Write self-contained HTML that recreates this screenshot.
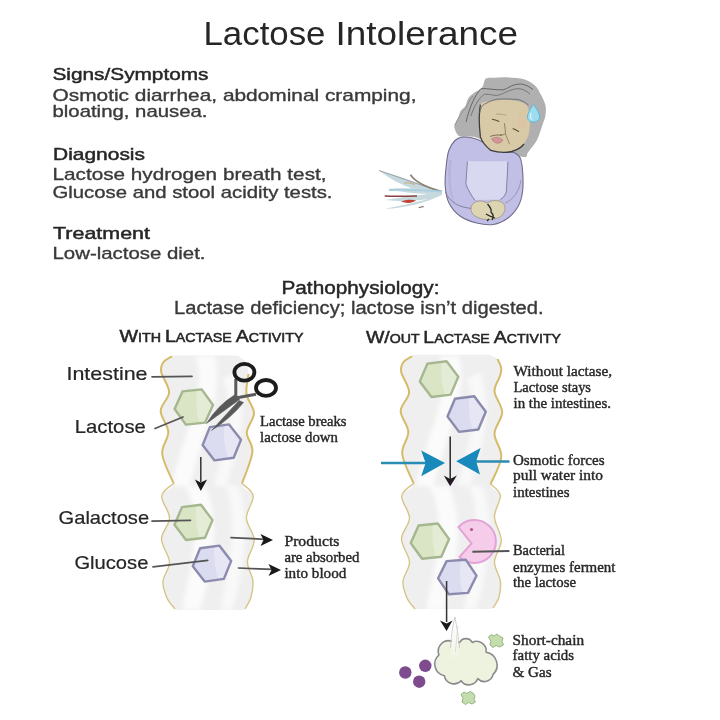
<!DOCTYPE html>
<html><head><meta charset="utf-8"><style>
html,body{margin:0;padding:0;background:#fff;width:720px;height:720px;overflow:hidden}
svg{display:block;filter:blur(0.4px)}
</style></head><body>
<svg width="720" height="720" viewBox="0 0 720 720">
<defs><filter id="blur2" x="-20%" y="-20%" width="140%" height="140%"><feGaussianBlur stdDeviation="2.2"/></filter></defs>
<rect width="720" height="720" fill="#ffffff"/>
<clipPath id="t1"><path d="M176.0,355.5 Q172.0,355.5 172.0,356.2 C170.6,357.2 165.3,359.4 163.5,362.0 C161.7,364.6 160.3,367.0 161.2,372.0 C162.1,377.0 169.2,385.7 169.1,392.2 C169.0,398.7 160.8,404.4 160.7,411.0 C160.6,417.6 168.1,424.8 168.3,432.0 C168.6,439.2 161.3,445.4 162.2,454.0 C163.1,462.6 173.8,476.5 173.7,483.5 C173.6,490.5 162.4,490.2 161.7,496.0 C161.0,501.8 169.5,510.8 169.5,518.0 C169.5,525.2 161.5,531.7 161.5,539.0 C161.5,546.3 169.2,555.0 169.5,562.0 C169.8,569.0 163.4,575.0 163.0,581.0 C162.6,587.0 165.0,593.3 167.0,598.0 C169.0,602.7 173.7,607.2 175.0,609.0 L178.0,610.0 L242.0,610.0 L245.0,609.0 C246.0,607.0 249.7,601.8 251.0,597.0 C252.3,592.2 253.4,585.9 252.8,580.0 C252.2,574.1 247.2,568.4 247.4,561.7 C247.6,555.0 254.4,547.3 254.2,540.0 C254.0,532.7 246.6,525.3 246.4,518.0 C246.2,510.7 253.9,501.8 253.2,496.0 C252.5,490.2 242.1,490.8 242.0,483.5 C241.9,476.2 251.6,460.5 252.4,452.0 C253.2,443.5 246.5,439.0 246.8,432.5 C247.1,426.0 254.1,419.4 254.0,413.0 C253.9,406.6 247.4,400.5 246.5,394.0 C245.6,387.5 248.7,379.3 248.5,374.0 C248.3,368.7 247.1,365.0 245.5,362.0 C243.9,359.0 240.1,357.2 239.0,356.2 Q239.0,355.5 235.0,355.5 Z"/></clipPath><path d="M176.0,355.5 Q172.0,355.5 172.0,356.2 C170.6,357.2 165.3,359.4 163.5,362.0 C161.7,364.6 160.3,367.0 161.2,372.0 C162.1,377.0 169.2,385.7 169.1,392.2 C169.0,398.7 160.8,404.4 160.7,411.0 C160.6,417.6 168.1,424.8 168.3,432.0 C168.6,439.2 161.3,445.4 162.2,454.0 C163.1,462.6 173.8,476.5 173.7,483.5 C173.6,490.5 162.4,490.2 161.7,496.0 C161.0,501.8 169.5,510.8 169.5,518.0 C169.5,525.2 161.5,531.7 161.5,539.0 C161.5,546.3 169.2,555.0 169.5,562.0 C169.8,569.0 163.4,575.0 163.0,581.0 C162.6,587.0 165.0,593.3 167.0,598.0 C169.0,602.7 173.7,607.2 175.0,609.0 L178.0,610.0 L242.0,610.0 L245.0,609.0 C246.0,607.0 249.7,601.8 251.0,597.0 C252.3,592.2 253.4,585.9 252.8,580.0 C252.2,574.1 247.2,568.4 247.4,561.7 C247.6,555.0 254.4,547.3 254.2,540.0 C254.0,532.7 246.6,525.3 246.4,518.0 C246.2,510.7 253.9,501.8 253.2,496.0 C252.5,490.2 242.1,490.8 242.0,483.5 C241.9,476.2 251.6,460.5 252.4,452.0 C253.2,443.5 246.5,439.0 246.8,432.5 C247.1,426.0 254.1,419.4 254.0,413.0 C253.9,406.6 247.4,400.5 246.5,394.0 C245.6,387.5 248.7,379.3 248.5,374.0 C248.3,368.7 247.1,365.0 245.5,362.0 C243.9,359.0 240.1,357.2 239.0,356.2 Q239.0,355.5 235.0,355.5 Z" fill="#efefef"/><g clip-path="url(#t1)"><g filter="url(#blur2)"><path d="M195.0,356.0 C210.0,390.0 180.0,440.0 172.0,486.0 L190.0,486.0 C200.0,440.0 225.0,395.0 215.0,356.0 Z" fill="#ffffff" opacity="0.75"/><path d="M222.0,380.0 C240.0,410.0 222.0,450.0 214.0,486.0 L226.0,486.0 C238.0,450.0 250.0,410.0 236.0,372.0 Z" fill="#ffffff" opacity="0.6"/><path d="M185.0,486.0 C205.0,520.0 190.0,570.0 182.0,610.0 L200.0,610.0 C212.0,570.0 222.0,525.0 205.0,486.0 Z" fill="#ffffff" opacity="0.75"/><path d="M225.0,486.0 C240.0,515.0 228.0,570.0 220.0,610.0 L232.0,610.0 C244.0,570.0 252.0,520.0 238.0,486.0 Z" fill="#ffffff" opacity="0.6"/></g></g><path d="M172.0,356.2 C170.6,357.2 165.3,359.4 163.5,362.0 C161.7,364.6 160.3,367.0 161.2,372.0 C162.1,377.0 169.2,385.7 169.1,392.2 C169.0,398.7 160.8,404.4 160.7,411.0 C160.6,417.6 168.1,424.8 168.3,432.0 C168.6,439.2 161.3,445.4 162.2,454.0 C163.1,462.6 171.8,478.6 173.7,483.5" fill="none" stroke="#d5bb68" stroke-width="2"/><path d="M173.7,483.5 C171.7,485.6 162.4,490.2 161.7,496.0 C161.0,501.8 169.5,510.8 169.5,518.0 C169.5,525.2 161.5,531.7 161.5,539.0 C161.5,546.3 169.2,555.0 169.5,562.0 C169.8,569.0 163.4,575.0 163.0,581.0 C162.6,587.0 165.0,593.3 167.0,598.0 C169.0,602.7 173.7,607.2 175.0,609.0" fill="none" stroke="#d8c488" stroke-width="1.4"/><path d="M248.5,374.0 C248.2,377.3 245.6,387.5 246.5,394.0 C247.4,400.5 253.9,406.6 254.0,413.0 C254.1,419.4 247.1,426.0 246.8,432.5 C246.5,439.0 253.2,443.5 252.4,452.0 C251.6,460.5 243.7,478.2 242.0,483.5" fill="none" stroke="#d5bb68" stroke-width="2"/><path d="M242.0,483.5 C243.9,485.6 252.5,490.2 253.2,496.0 C253.9,501.8 246.2,510.7 246.4,518.0 C246.6,525.3 254.0,532.7 254.2,540.0 C254.4,547.3 247.6,555.0 247.4,561.7 C247.2,568.4 252.2,574.1 252.8,580.0 C253.4,585.9 252.3,592.2 251.0,597.0 C249.7,601.8 246.0,607.0 245.0,609.0" fill="none" stroke="#d8c488" stroke-width="1.4"/>
<clipPath id="t2"><path d="M416.0,354.8 Q412.0,354.8 412.0,356.2 C410.6,357.2 405.3,359.4 403.5,362.0 C401.7,364.6 400.3,367.0 401.2,372.0 C402.1,377.0 409.2,385.7 409.1,392.2 C409.0,398.7 400.8,404.4 400.7,411.0 C400.6,417.6 408.1,424.8 408.3,432.0 C408.6,439.2 401.3,445.4 402.2,454.0 C403.1,462.6 413.8,476.5 413.7,483.5 C413.6,490.5 402.4,490.2 401.7,496.0 C401.0,501.8 409.5,510.8 409.5,518.0 C409.5,525.2 401.5,531.7 401.5,539.0 C401.5,546.3 409.2,555.0 409.5,562.0 C409.8,569.0 403.4,575.0 403.0,581.0 C402.6,587.0 405.0,593.3 407.0,598.0 C409.0,602.7 413.7,607.2 415.0,609.0 L418.0,609.0 L490.0,609.0 L493.0,608.0 C494.0,606.2 497.8,601.5 499.0,597.0 C500.2,592.5 501.1,586.9 500.3,581.0 C499.6,575.1 494.3,568.5 494.5,561.7 C494.7,554.9 501.3,547.8 501.3,540.3 C501.3,532.8 494.7,524.5 494.5,517.0 C494.3,509.6 500.9,501.1 500.3,495.6 C499.7,490.1 490.4,490.4 490.6,484.0 C490.8,477.6 500.7,465.4 501.3,457.0 C501.9,448.6 494.4,441.1 494.5,433.7 C494.6,426.2 502.2,419.3 502.2,412.3 C502.2,405.3 494.9,397.6 494.5,391.5 C494.1,385.4 498.9,379.9 500.0,376.0 C501.1,372.1 501.6,370.8 501.2,368.0 C500.8,365.2 499.7,361.2 497.5,359.0 C495.3,356.8 489.6,355.5 488.0,354.8 Q488.0,354.8 484.0,354.8 Z"/></clipPath><path d="M416.0,354.8 Q412.0,354.8 412.0,356.2 C410.6,357.2 405.3,359.4 403.5,362.0 C401.7,364.6 400.3,367.0 401.2,372.0 C402.1,377.0 409.2,385.7 409.1,392.2 C409.0,398.7 400.8,404.4 400.7,411.0 C400.6,417.6 408.1,424.8 408.3,432.0 C408.6,439.2 401.3,445.4 402.2,454.0 C403.1,462.6 413.8,476.5 413.7,483.5 C413.6,490.5 402.4,490.2 401.7,496.0 C401.0,501.8 409.5,510.8 409.5,518.0 C409.5,525.2 401.5,531.7 401.5,539.0 C401.5,546.3 409.2,555.0 409.5,562.0 C409.8,569.0 403.4,575.0 403.0,581.0 C402.6,587.0 405.0,593.3 407.0,598.0 C409.0,602.7 413.7,607.2 415.0,609.0 L418.0,609.0 L490.0,609.0 L493.0,608.0 C494.0,606.2 497.8,601.5 499.0,597.0 C500.2,592.5 501.1,586.9 500.3,581.0 C499.6,575.1 494.3,568.5 494.5,561.7 C494.7,554.9 501.3,547.8 501.3,540.3 C501.3,532.8 494.7,524.5 494.5,517.0 C494.3,509.6 500.9,501.1 500.3,495.6 C499.7,490.1 490.4,490.4 490.6,484.0 C490.8,477.6 500.7,465.4 501.3,457.0 C501.9,448.6 494.4,441.1 494.5,433.7 C494.6,426.2 502.2,419.3 502.2,412.3 C502.2,405.3 494.9,397.6 494.5,391.5 C494.1,385.4 498.9,379.9 500.0,376.0 C501.1,372.1 501.6,370.8 501.2,368.0 C500.8,365.2 499.7,361.2 497.5,359.0 C495.3,356.8 489.6,355.5 488.0,354.8 Q488.0,354.8 484.0,354.8 Z" fill="#efefef"/><g clip-path="url(#t2)"><g filter="url(#blur2)"><path d="M439.0,356.0 C454.0,390.0 424.0,440.0 416.0,486.0 L434.0,486.0 C444.0,440.0 469.0,395.0 459.0,356.0 Z" fill="#ffffff" opacity="0.75"/><path d="M466.0,380.0 C484.0,410.0 466.0,450.0 458.0,486.0 L470.0,486.0 C482.0,450.0 494.0,410.0 480.0,372.0 Z" fill="#ffffff" opacity="0.6"/><path d="M429.0,486.0 C449.0,520.0 434.0,570.0 426.0,610.0 L444.0,610.0 C456.0,570.0 466.0,525.0 449.0,486.0 Z" fill="#ffffff" opacity="0.75"/><path d="M469.0,486.0 C484.0,515.0 472.0,570.0 464.0,610.0 L476.0,610.0 C488.0,570.0 496.0,520.0 482.0,486.0 Z" fill="#ffffff" opacity="0.6"/></g></g><path d="M412.0,356.2 C410.6,357.2 405.3,359.4 403.5,362.0 C401.7,364.6 400.3,367.0 401.2,372.0 C402.1,377.0 409.2,385.7 409.1,392.2 C409.0,398.7 400.8,404.4 400.7,411.0 C400.6,417.6 408.1,424.8 408.3,432.0 C408.6,439.2 401.3,445.4 402.2,454.0 C403.1,462.6 411.8,478.6 413.7,483.5" fill="none" stroke="#d5bb68" stroke-width="2"/><path d="M413.7,483.5 C411.7,485.6 402.4,490.2 401.7,496.0 C401.0,501.8 409.5,510.8 409.5,518.0 C409.5,525.2 401.5,531.7 401.5,539.0 C401.5,546.3 409.2,555.0 409.5,562.0 C409.8,569.0 403.4,575.0 403.0,581.0 C402.6,587.0 405.0,593.3 407.0,598.0 C409.0,602.7 413.7,607.2 415.0,609.0" fill="none" stroke="#d8c488" stroke-width="1.4"/><path d="M497.5,359.0 C498.1,360.5 500.8,365.2 501.2,368.0 C501.6,370.8 501.1,372.1 500.0,376.0 C498.9,379.9 494.1,385.4 494.5,391.5 C494.9,397.6 502.2,405.3 502.2,412.3 C502.2,419.3 494.6,426.2 494.5,433.7 C494.4,441.1 501.9,448.6 501.3,457.0 C500.7,465.4 492.4,479.5 490.6,484.0" fill="none" stroke="#d5bb68" stroke-width="2"/><path d="M490.6,484.0 C492.2,485.9 499.7,490.1 500.3,495.6 C500.9,501.1 494.3,509.6 494.5,517.0 C494.7,524.5 501.3,532.8 501.3,540.3 C501.3,547.8 494.7,554.9 494.5,561.7 C494.3,568.5 499.6,575.1 500.3,581.0 C501.1,586.9 500.2,592.5 499.0,597.0 C497.8,601.5 494.0,606.2 493.0,608.0" fill="none" stroke="#d8c488" stroke-width="1.4"/>
<!-- pacman -->
<path d="M458.5,527 A21.5,21.5 0 1 1 459.5,557 L471.5,543.5 Z" fill="#f5cdea" stroke="#e3a3d6" stroke-width="2"/>
<circle cx="471.5" cy="529.5" r="1.6" fill="#c0508a"/>
<line x1="472.4" y1="551.8" x2="509.4" y2="551" stroke="#555" stroke-width="2"/>

<polygon points="213.0,405.0 205.1,422.6 185.9,424.6 174.6,409.0 182.5,391.4 201.7,389.4" fill="#dae5c5"/><path d="M201.7,389.4 L213.0,405.0 L205.1,422.6 L199.4,422.6 Q194.8,407.0 196.8,390.4 Z" fill="#e4ecd6"/><polygon points="213.0,405.0 205.1,422.6 185.9,424.6 174.6,409.0 182.5,391.4 201.7,389.4" fill="none" stroke="#a5b78f" stroke-width="2.4" stroke-linejoin="round"/>
<polygon points="241.0,439.7 233.7,457.7 214.5,460.4 202.6,445.1 209.9,427.1 229.1,424.4" fill="#dcdcf1"/><path d="M229.1,424.4 L241.0,439.7 L233.7,457.7 L227.9,457.7 Q222.8,442.4 224.2,425.4 Z" fill="#e6e6f5"/><polygon points="241.0,439.7 233.7,457.7 214.5,460.4 202.6,445.1 209.9,427.1 229.1,424.4" fill="none" stroke="#8c8bae" stroke-width="2.4" stroke-linejoin="round"/>
<polygon points="212.5,520.1 205.0,537.7 186.0,540.0 174.5,524.7 182.0,507.1 201.0,504.8" fill="#dae5c5"/><path d="M201.0,504.8 L212.5,520.1 L205.0,537.7 L199.3,537.7 Q194.5,522.4 196.2,505.8 Z" fill="#e4ecd6"/><polygon points="212.5,520.1 205.0,537.7 186.0,540.0 174.5,524.7 182.0,507.1 201.0,504.8" fill="none" stroke="#a5b78f" stroke-width="2.4" stroke-linejoin="round"/>
<polygon points="231.2,560.9 223.9,578.9 204.7,581.6 192.8,566.3 200.1,548.3 219.3,545.6" fill="#dcdcf1"/><path d="M219.3,545.6 L231.2,560.9 L223.9,578.9 L218.1,578.9 Q213.0,563.6 214.4,546.6 Z" fill="#e6e6f5"/><polygon points="231.2,560.9 223.9,578.9 204.7,581.6 192.8,566.3 200.1,548.3 219.3,545.6" fill="none" stroke="#8c8bae" stroke-width="2.4" stroke-linejoin="round"/>
<polygon points="458.3,376.7 450.7,394.6 431.5,397.0 419.8,381.5 427.4,363.6 446.6,361.2" fill="#dae5c5"/><path d="M446.6,361.2 L458.3,376.7 L450.7,394.6 L444.9,394.6 Q440.0,379.1 441.8,362.2 Z" fill="#e4ecd6"/><polygon points="458.3,376.7 450.7,394.6 431.5,397.0 419.8,381.5 427.4,363.6 446.6,361.2" fill="none" stroke="#a5b78f" stroke-width="2.4" stroke-linejoin="round"/>
<polygon points="485.8,411.7 478.3,429.5 459.1,431.9 447.5,416.5 455.0,398.7 474.2,396.3" fill="#dcdcf1"/><path d="M474.2,396.3 L485.8,411.7 L478.3,429.5 L472.5,429.5 Q467.6,414.1 469.4,397.3 Z" fill="#e6e6f5"/><polygon points="485.8,411.7 478.3,429.5 459.1,431.9 447.5,416.5 455.0,398.7 474.2,396.3" fill="none" stroke="#8c8bae" stroke-width="2.4" stroke-linejoin="round"/>
<polygon points="449.1,539.1 441.3,556.7 422.1,558.7 410.8,543.1 418.6,525.5 437.8,523.5" fill="#dae5c5"/><path d="M437.8,523.5 L449.1,539.1 L441.3,556.7 L435.5,556.7 Q430.9,541.1 433.0,524.5 Z" fill="#e4ecd6"/><polygon points="449.1,539.1 441.3,556.7 422.1,558.7 410.8,543.1 418.6,525.5 437.8,523.5" fill="none" stroke="#a5b78f" stroke-width="2.4" stroke-linejoin="round"/>
<polygon points="476.5,575.7 468.0,592.9 448.9,594.3 438.1,578.3 446.6,561.1 465.7,559.7" fill="#dcdcf1"/><path d="M465.7,559.7 L476.5,575.7 L468.0,592.9 L462.3,592.9 Q458.3,577.0 460.9,560.7 Z" fill="#e6e6f5"/><polygon points="476.5,575.7 468.0,592.9 448.9,594.3 438.1,578.3 446.6,561.1 465.7,559.7" fill="none" stroke="#8c8bae" stroke-width="2.4" stroke-linejoin="round"/>
<!-- leader lines -->
<g stroke="#555555" stroke-width="1.7" stroke-linecap="round" fill="none">
<line x1="152" y1="376.8" x2="192" y2="376.3"/>
<line x1="155" y1="428.5" x2="183" y2="417"/>
<line x1="152" y1="521.2" x2="190.5" y2="520.3"/>
<line x1="153" y1="566.8" x2="207.7" y2="560.3"/>
<line x1="231" y1="537.7" x2="265" y2="539.3"/>
<line x1="238.5" y1="568" x2="273" y2="569.4"/>
</g>
<path d="M273,540 L260.5,534 L263.5,540 L260.5,546 Z" fill="#1a1a1a"/>
<path d="M281,570 L268.5,564 L271.5,570 L268.5,576 Z" fill="#1a1a1a"/>
<!-- down arrows -->
<line x1="200.8" y1="457" x2="200.8" y2="482" stroke="#333" stroke-width="1.5"/>
<path d="M200.8,491 L194.9,479.5 L200.8,482.6 L207.1,479.5 Z" fill="#1a1a1a"/>
<line x1="450.2" y1="436.5" x2="450.2" y2="479" stroke="#2a2a2a" stroke-width="1.5"/>
<path d="M450.2,486.3 L443.8,475.6 L450.2,479 L456.9,475.6 Z" fill="#231a24"/>
<line x1="446.6" y1="581" x2="446.6" y2="622" stroke="#333" stroke-width="1.5"/>
<path d="M446.6,631 L440,620.5 L446.6,623.5 L452.5,620.5 Z" fill="#1a1a1a"/>
<!-- blue arrows -->
<line x1="381" y1="463" x2="430" y2="463" stroke="#2a8db5" stroke-width="2.6"/>
<path d="M445,463.1 L421.2,450.6 L425.6,463.1 L421.2,476.2 Z" fill="#1789bb"/>
<line x1="470" y1="461.5" x2="509.5" y2="461.5" stroke="#2a8db5" stroke-width="2.6"/>
<path d="M456.2,461.3 L480.6,448.1 L476.2,461.3 L480,474.4 Z" fill="#1789bb"/>
<!-- scissors -->
<g>
<path d="M234.5,395 Q217.5,405.5 206.5,423.5 L239.5,399.5 Z" fill="#585858" stroke="#585858" stroke-width="0.6" stroke-linejoin="round"/>
<path d="M239,400.5 L211.5,430.5 Q231,418 243.5,402.5 Z" fill="#5a5a5a" stroke="#5a5a5a" stroke-width="0.6" stroke-linejoin="round"/>
<path d="M235.8,379 L235.8,398 L256,394.2" stroke="#5a5a5a" stroke-width="3" fill="none" stroke-linejoin="round"/>
<ellipse cx="244.4" cy="372.3" rx="10" ry="8.4" fill="none" stroke="#1c1c1c" stroke-width="3.8"/>
<ellipse cx="266" cy="387.9" rx="10" ry="7.9" fill="none" stroke="#1c1c1c" stroke-width="3.8"/>
</g>
<!-- cloud -->
<path d="M438.9,655.0 A10.5,10.5 0 0 1 451.4,641.1 L459.7,642.5 A7.0,7.0 0 0 1 472.2,642.5 A9.5,9.5 0 0 1 486.1,652.2 A13.0,13.0 0 0 1 493.1,674.4 A8.9,8.9 0 0 1 477.8,678.6 A9.4,9.4 0 0 1 461.1,680.7 A9.7,9.7 0 0 1 444.4,675.8 A12.0,12.0 0 0 1 438.9,655.0 Z" fill="#eef3df" stroke="#8a8a8a" stroke-width="1.6" stroke-linejoin="round"/>
<linearGradient id="wg" x1="0" y1="0" x2="0" y2="1"><stop offset="0" stop-color="#ffffff"/><stop offset="0.6" stop-color="#f7f9f0"/><stop offset="1" stop-color="#eef3df"/></linearGradient>
<path d="M450.5,660 C451,648 452,632 455,617 C457,632 459,648 459.5,660 Z" fill="url(#wg)"/>
<path d="M450.5,648 C451,640 452,628 455,617 C457,628 459,640 459.5,648" fill="none" stroke="#c4c4c4" stroke-width="0.8"/>
<path d="M455.5,652 C456,645 457,635 458,626" fill="none" stroke="#d0d0d0" stroke-width="0.7"/>
<circle cx="405.3" cy="672.5" r="6.2" fill="#7d4b8e"/>
<circle cx="425.3" cy="665.8" r="6.2" fill="#7d4b8e"/>
<circle cx="419.2" cy="681.7" r="6.2" fill="#7d4b8e"/>
<path d="M488.5,637 L491,634.5 L494,636 L497,634 L500,636.5 L503,638 L502,641.5 L503.5,645 L499.5,647 L496,645.5 L493,647.5 L490,645 L491,641.5 Z" fill="#c3ddac" stroke="#96b684" stroke-width="1" stroke-linejoin="round"/>
<path d="M461,694.5 L464,692 L467,693.5 L470,691.5 L473,693 L475,696 L474,699.5 L475.5,702 L472,704 L468.5,702.5 L465.5,704.5 L462,702 L463,698.5 Z" fill="#c3ddac" stroke="#96b684" stroke-width="1" stroke-linejoin="round"/>
<path d="M442,191.5 C425,186 400,176 379,170.5 C390,179 402,185 412,188.5 C400,188 392,188.5 388,189 C400,192 415,193.5 428,194 C412,196 396,198 386,200 C402,202 416,201 428,199 C414,203 398,206 385,209 C405,208 425,203 442,195 Z" fill="#c6d9df"/>
<path d="M379,170.5 C395,176 415,183 436,190" fill="none" stroke="#9aa4a8" stroke-width="1"/>
<path d="M410.5,174.6 C415,182 425,187 442,191.5" fill="none" stroke="#8c8272" stroke-width="1.8"/>
<path d="M404,183 C408,182.5 412,183 415,184.5" fill="none" stroke="#c8b89a" stroke-width="1.6"/>
<path d="M389,190 C405,189.5 425,190 442,191.5" fill="none" stroke="#a9cfdf" stroke-width="1.8"/>
<path d="M384.7,196 C395,196.5 407,196.2 417,196" fill="none" stroke="#8a4040" stroke-width="1.4"/>
<path d="M401,201.5 C406,199.5 412,199.5 416,200.5 C412,203.5 406,203.5 401,201.5 Z" fill="#c24232"/>
<path d="M418.8,207.8 C420.5,207 422,206.8 423.6,206.7" stroke="#7a6a60" stroke-width="1.2" fill="none"/>
<path d="M485.9,78.6 C488.1,77.0 491.2,78.0 495.0,77.8 C498.8,77.6 503.9,77.2 508.8,77.4 C513.6,77.6 519.7,77.9 524.0,79.2 C528.3,80.5 531.9,82.8 534.7,85.3 C537.5,87.8 539.0,91.1 540.8,94.4 C542.6,97.7 544.6,101.5 545.4,105.1 C546.2,108.7 545.9,112.5 545.4,115.8 C544.9,119.1 543.8,121.0 542.4,125.0 C541.0,129.0 539.4,135.5 537.0,140.0 C534.6,144.5 530.2,149.2 528.0,152.0 C525.8,154.8 528.7,157.3 524.0,157.0 C519.3,156.7 507.8,153.2 500.0,150.0 C492.2,146.8 483.5,140.0 477.1,137.8 C470.7,135.6 464.9,137.3 461.5,136.6 C458.1,135.9 457.9,135.1 456.7,133.4 C455.5,131.7 454.4,128.4 454.2,126.6 C454.0,124.8 455.0,124.3 455.7,122.7 C456.4,121.1 457.8,118.8 458.6,116.8 C459.4,114.8 459.5,112.8 460.6,111.0 C461.7,109.2 464.1,108.2 465.4,106.1 C466.7,104.0 467.0,100.4 468.3,98.3 C469.6,96.2 470.9,95.3 473.2,93.5 C475.5,91.7 479.9,90.1 482.0,87.6 C484.1,85.1 483.7,80.2 485.9,78.6 Z" fill="#b0b0b0"/>
<path d="M455,125 C458,118 462,112 466,108 C468,103 470,99 473,96" fill="none" stroke="#8c8c8c" stroke-width="0.8"/>
<path d="M466,122 C470,106 475,95 481,88.7 C487,88 497,90.5 503.3,89.8 C508,88.5 511,85.5 514.4,84.8 C518,84 520,84 522.2,84.2 C526,85 529,86.5 533,89.5" fill="none" stroke="#5e5e5e" stroke-width="0.9"/>
<path d="M471,116 C474,106 479,98 484.4,94.2 C490,93.8 494,96 497.8,95.3 C502,94.5 505,92 508.9,90.9 C512,89.5 515,88.8 517.8,88.7 C522,88.5 526,90.5 530,94" fill="none" stroke="#6a6a6a" stroke-width="0.8"/>
<path d="M446.2,166.0 C446.8,160.0 447.5,154.2 449.0,150.0 C450.5,145.8 452.9,142.6 455.0,140.5 C457.1,138.4 458.2,137.5 461.7,137.2 C465.2,136.9 471.4,137.4 476.1,138.9 C480.8,140.4 485.0,143.9 490.0,146.0 C495.0,148.1 501.8,150.3 506.0,151.5 C510.2,152.7 512.6,151.8 515.0,153.0 C517.4,154.2 519.3,155.3 520.6,158.9 C521.9,162.5 522.5,168.9 522.8,174.4 C523.1,179.9 523.2,186.7 522.5,192.0 C521.8,197.3 520.7,201.7 518.3,206.0 C515.9,210.3 512.2,214.9 508.0,218.0 C503.8,221.1 498.5,223.7 493.3,224.5 C488.1,225.3 482.2,224.4 476.7,223.0 C471.1,221.6 464.6,219.3 460.0,216.0 C455.4,212.7 451.5,208.0 449.0,203.0 C446.5,198.0 445.7,192.2 445.2,186.0 C444.7,179.8 445.6,172.0 446.2,166.0 Z" fill="#c1bfe5" stroke="#6f6d8b" stroke-width="1.1"/>
<path d="M449,160 C447,175 448,195 455,205 C450,190 450,172 452,160 Z" fill="#b6b4dd"/>
<path d="M467.4,161.2 L507.9,161.2 L506.3,191.8 C505,196 502,198 500.2,199.4 L475,200 C472,195 468,190 465.9,184.1 Z" fill="#d9d8f1"/>
<path d="M467.4,161.6 C467,168 466.3,176 465.9,184.1 C468,190 471,195 475,200.5" fill="none" stroke="#7b7997" stroke-width="0.9"/>
<path d="M507.9,161.6 C507.5,172 507,182 506.3,191.8 C505,196 503,198 500.2,199.4" fill="none" stroke="#7b7997" stroke-width="0.9"/>
<path d="M445.3,192 C450,202 458,207.5 472.7,208.5" fill="none" stroke="#7b7997" stroke-width="0.9"/>
<path d="M521,180 C519,192 513,200 505,203" fill="none" stroke="#8b89a7" stroke-width="0.8"/>
<path d="M471.5,206 C474,200.5 482,199.5 487,203 C492,199.5 501,199.5 504,204.5 C507,210 503,217 496,218.5 C490,220 483,220 478,217.5 C472,215 470,211 471.5,206 Z" fill="#ddd5b2" stroke="#8d8468" stroke-width="0.6"/>
<path d="M487.5,204 C490,207 492,209 491,212 C493,214 494,217 492,220 M486,214 C489,216 492,217 495,218 M489,219 L487,221" stroke="#2a2a2a" stroke-width="1.3" fill="none"/>
<path d="M480.4,104.6 C482.0,101.3 485.3,102.3 488.8,101.5 C492.2,100.7 497.1,100.1 501.2,99.9 C505.4,99.7 509.9,99.8 513.8,100.4 C517.6,101.0 521.8,102.1 524.2,103.5 C526.6,104.9 527.3,105.8 528.3,108.8 C529.3,111.7 530.2,117.5 530.4,121.3 C530.6,125.1 530.3,128.2 529.4,131.7 C528.5,135.2 526.9,139.3 525.2,142.1 C523.5,144.9 521.2,146.7 519.0,148.3 C516.8,149.9 514.6,150.8 511.7,151.5 C508.8,152.2 504.8,152.7 501.3,152.5 C497.8,152.3 493.6,151.6 490.8,150.4 C488.0,149.2 486.3,147.4 484.6,145.2 C482.9,142.9 481.3,140.9 480.4,136.9 C479.5,132.9 479.4,126.7 479.4,121.3 C479.4,115.9 478.8,107.9 480.4,104.6 Z" fill="#d8caa6"/>
<path d="M480.4,104.6 C479,112 479,125 480.4,136.9 C482,142 484,145 490.8,150.4 C496,152 505,153 511.7,151.5 C517,150 521,148 524,144" fill="none" stroke="#3e3e3e" stroke-width="1.3"/>
<ellipse cx="522" cy="121" rx="5" ry="9" fill="#dfbca2" opacity="0.3"/>
<path d="M479.7,112.8 C481,107 483,104 485.8,103.6 C492,100 496,99 501.1,99 C508,99 514,99 519.4,99.8 C523,101 526,103 528.6,105.1" fill="none" stroke="#6a6a6a" stroke-width="0.9"/>
<path d="M528,104 C533,110 536,125 534,140 C531,150 526,156 522,157 C527,148 530,135 530,120 C530,112 529,107 528,104 Z" fill="#b0b0b0"/>
<path d="M491.9,119.2 C494,119.5 497,120.5 499.2,121.5" stroke="#5d4d3b" stroke-width="1.1" fill="none"/>
<path d="M512.7,128.5 C515,129.5 517,130.5 519,131.7" stroke="#5d4d3b" stroke-width="1.1" fill="none"/>
<path d="M496,114 C499,114 503,114.5 506.5,115" stroke="#b09a78" stroke-width="0.8" fill="none"/>
<path d="M504.4,123.3 C505,127 505.5,131 505.4,133.75 C504,135 502,135 500,134.5" stroke="#7c6a50" stroke-width="0.8" fill="none"/>
<path d="M505.4,133.75 C507,137 508,141 509.6,144.2" stroke="#8a7658" stroke-width="0.8" fill="none"/>
<path d="M491.5,139 C495,136 500,137 503,140 C501,144 495,145 491.5,139 Z" fill="#d4949a" stroke="#a07070" stroke-width="0.5"/>
<path d="M490,136.5 C494,135 498,134.5 502,135.5" stroke="#6b5a48" stroke-width="0.8" fill="none"/>
<path d="M533.5,104.6 C536,108 539,112 539.5,116 C540,120 537,122 533,122 C529,122 527,119 527.5,116 C528,112 531,108 533.5,104.6 Z" fill="#9edcf0" stroke="#56b4da" stroke-width="0.9"/>
<path d="M531,113 C530,116 530.5,118 532,119.5" stroke="#dff5fb" stroke-width="1.2" fill="none"/><text x="203.5" y="45.3" font-size="33" textLength="122" lengthAdjust="spacingAndGlyphs" fill="#262626" font-weight="normal" style='font-family:"Liberation Sans", sans-serif' >Lactose</text>
<text x="335.5" y="45.3" font-size="33" textLength="182.5" lengthAdjust="spacingAndGlyphs" fill="#262626" font-weight="normal" style='font-family:"Liberation Sans", sans-serif' >Intolerance</text>
<text x="52.5" y="80.2" font-size="16.2" textLength="156" lengthAdjust="spacingAndGlyphs" fill="#262626" font-weight="normal" style='font-family:"Liberation Sans", sans-serif' stroke="#262626" stroke-width="0.45">Signs/Symptoms</text>
<text x="52.5" y="100.7" font-size="17" textLength="364" lengthAdjust="spacingAndGlyphs" fill="#3a3a3a" font-weight="normal" style='font-family:"Liberation Sans", sans-serif' stroke="#3a3a3a" stroke-width="0.35">Osmotic diarrhea, abdominal cramping,</text>
<text x="52.5" y="117.2" font-size="17" textLength="155" lengthAdjust="spacingAndGlyphs" fill="#3a3a3a" font-weight="normal" style='font-family:"Liberation Sans", sans-serif' stroke="#3a3a3a" stroke-width="0.35">bloating, nausea.</text>
<text x="53" y="159.6" font-size="16.2" textLength="92" lengthAdjust="spacingAndGlyphs" fill="#262626" font-weight="normal" style='font-family:"Liberation Sans", sans-serif' stroke="#262626" stroke-width="0.45">Diagnosis</text>
<text x="52.5" y="179.6" font-size="17" textLength="274" lengthAdjust="spacingAndGlyphs" fill="#3a3a3a" font-weight="normal" style='font-family:"Liberation Sans", sans-serif' stroke="#3a3a3a" stroke-width="0.35">Lactose hydrogen breath test,</text>
<text x="52.5" y="198.2" font-size="17" textLength="280" lengthAdjust="spacingAndGlyphs" fill="#3a3a3a" font-weight="normal" style='font-family:"Liberation Sans", sans-serif' stroke="#3a3a3a" stroke-width="0.35">Glucose and stool acidity tests.</text>
<text x="53" y="239.1" font-size="16.2" textLength="97" lengthAdjust="spacingAndGlyphs" fill="#262626" font-weight="normal" style='font-family:"Liberation Sans", sans-serif' stroke="#262626" stroke-width="0.45">Treatment</text>
<text x="52.5" y="259.4" font-size="17" textLength="153" lengthAdjust="spacingAndGlyphs" fill="#3a3a3a" font-weight="normal" style='font-family:"Liberation Sans", sans-serif' stroke="#3a3a3a" stroke-width="0.35">Low-lactose diet.</text>
<text x="281.5" y="294.4" font-size="18" textLength="158" lengthAdjust="spacingAndGlyphs" fill="#262626" font-weight="normal" style='font-family:"Liberation Sans", sans-serif' stroke="#262626" stroke-width="0.45">Pathophysiology:</text>
<text x="174" y="313.9" font-size="18" textLength="369.5" lengthAdjust="spacingAndGlyphs" fill="#3a3a3a" font-weight="normal" style='font-family:"Liberation Sans", sans-serif' stroke="#3a3a3a" stroke-width="0.35">Lactase deficiency; lactose isn’t digested.</text>
<text x="119.5" y="342.3" textLength="184" lengthAdjust="spacingAndGlyphs" fill="#262626" stroke="#262626" stroke-width="0.5" style='font-family:"Liberation Sans", sans-serif'><tspan font-size="16.5">W</tspan><tspan font-size="12">ITH </tspan><tspan font-size="16.5">L</tspan><tspan font-size="12">ACTASE </tspan><tspan font-size="16.5">A</tspan><tspan font-size="12">CTIVITY</tspan></text>
<text x="366" y="342.7" textLength="195" lengthAdjust="spacingAndGlyphs" fill="#262626" stroke="#262626" stroke-width="0.5" style='font-family:"Liberation Sans", sans-serif'><tspan font-size="16.5">W/</tspan><tspan font-size="12">OUT </tspan><tspan font-size="16.5">L</tspan><tspan font-size="12">ACTASE </tspan><tspan font-size="16.5">A</tspan><tspan font-size="12">CTIVITY</tspan></text>
<text x="66.5" y="380.3" font-size="18.6" textLength="81" lengthAdjust="spacingAndGlyphs" fill="#262626" font-weight="normal" style='font-family:"Liberation Sans", sans-serif' stroke="#222" stroke-width="0.2">Intestine</text>
<text x="74.8" y="433.3" font-size="18.6" textLength="71" lengthAdjust="spacingAndGlyphs" fill="#262626" font-weight="normal" style='font-family:"Liberation Sans", sans-serif' stroke="#222" stroke-width="0.2">Lactose</text>
<text x="58.6" y="523.5" font-size="18.6" textLength="90.5" lengthAdjust="spacingAndGlyphs" fill="#262626" font-weight="normal" style='font-family:"Liberation Sans", sans-serif' stroke="#222" stroke-width="0.2">Galactose</text>
<text x="74.4" y="569" font-size="18.6" textLength="74" lengthAdjust="spacingAndGlyphs" fill="#262626" font-weight="normal" style='font-family:"Liberation Sans", sans-serif' stroke="#222" stroke-width="0.2">Glucose</text>
<text x="260" y="426.4" font-size="15" textLength="86.5" lengthAdjust="spacingAndGlyphs" fill="#282828" font-weight="normal" style='font-family:"Liberation Serif", serif' stroke="#282828" stroke-width="0.42">Lactase breaks</text>
<text x="260" y="442.4" font-size="15" textLength="78" lengthAdjust="spacingAndGlyphs" fill="#282828" font-weight="normal" style='font-family:"Liberation Serif", serif' stroke="#282828" stroke-width="0.42">lactose down</text>
<text x="284.4" y="546" font-size="15" textLength="55" lengthAdjust="spacingAndGlyphs" fill="#282828" font-weight="normal" style='font-family:"Liberation Serif", serif' stroke="#282828" stroke-width="0.42">Products</text>
<text x="284.4" y="561.7" font-size="15" textLength="75" lengthAdjust="spacingAndGlyphs" fill="#282828" font-weight="normal" style='font-family:"Liberation Serif", serif' stroke="#282828" stroke-width="0.42">are absorbed</text>
<text x="284.4" y="578.3" font-size="15" textLength="62" lengthAdjust="spacingAndGlyphs" fill="#282828" font-weight="normal" style='font-family:"Liberation Serif", serif' stroke="#282828" stroke-width="0.42">into blood</text>
<text x="513.5" y="375.8" font-size="15" textLength="98.5" lengthAdjust="spacingAndGlyphs" fill="#282828" font-weight="normal" style='font-family:"Liberation Serif", serif' stroke="#282828" stroke-width="0.42">Without lactase,</text>
<text x="513.5" y="392" font-size="15" textLength="77.5" lengthAdjust="spacingAndGlyphs" fill="#282828" font-weight="normal" style='font-family:"Liberation Serif", serif' stroke="#282828" stroke-width="0.42">Lactose stays</text>
<text x="513.5" y="408.2" font-size="15" textLength="97.5" lengthAdjust="spacingAndGlyphs" fill="#282828" font-weight="normal" style='font-family:"Liberation Serif", serif' stroke="#282828" stroke-width="0.42">in the intestines.</text>
<text x="513" y="465.2" font-size="15" textLength="91.5" lengthAdjust="spacingAndGlyphs" fill="#282828" font-weight="normal" style='font-family:"Liberation Serif", serif' stroke="#282828" stroke-width="0.42">Osmotic forces</text>
<text x="513" y="480.2" font-size="15" textLength="90" lengthAdjust="spacingAndGlyphs" fill="#282828" font-weight="normal" style='font-family:"Liberation Serif", serif' stroke="#282828" stroke-width="0.42">pull water into</text>
<text x="513" y="497.3" font-size="15" textLength="56.5" lengthAdjust="spacingAndGlyphs" fill="#282828" font-weight="normal" style='font-family:"Liberation Serif", serif' stroke="#282828" stroke-width="0.42">intestines</text>
<text x="513" y="555.2" font-size="15" textLength="52" lengthAdjust="spacingAndGlyphs" fill="#282828" font-weight="normal" style='font-family:"Liberation Serif", serif' stroke="#282828" stroke-width="0.42">Bacterial</text>
<text x="513" y="572" font-size="15" textLength="102.5" lengthAdjust="spacingAndGlyphs" fill="#282828" font-weight="normal" style='font-family:"Liberation Serif", serif' stroke="#282828" stroke-width="0.42">enzymes ferment</text>
<text x="513" y="587.3" font-size="15" textLength="63" lengthAdjust="spacingAndGlyphs" fill="#282828" font-weight="normal" style='font-family:"Liberation Serif", serif' stroke="#282828" stroke-width="0.42">the lactose</text>
<text x="512.6" y="644.5" font-size="15" textLength="71.5" lengthAdjust="spacingAndGlyphs" fill="#282828" font-weight="normal" style='font-family:"Liberation Serif", serif' stroke="#282828" stroke-width="0.42">Short-chain</text>
<text x="512.6" y="660.2" font-size="15" textLength="61.5" lengthAdjust="spacingAndGlyphs" fill="#282828" font-weight="normal" style='font-family:"Liberation Serif", serif' stroke="#282828" stroke-width="0.42">fatty acids</text>
<text x="512.6" y="677.3" font-size="15" textLength="39" lengthAdjust="spacingAndGlyphs" fill="#282828" font-weight="normal" style='font-family:"Liberation Serif", serif' stroke="#282828" stroke-width="0.42">&amp; Gas</text>
</svg></body></html>
